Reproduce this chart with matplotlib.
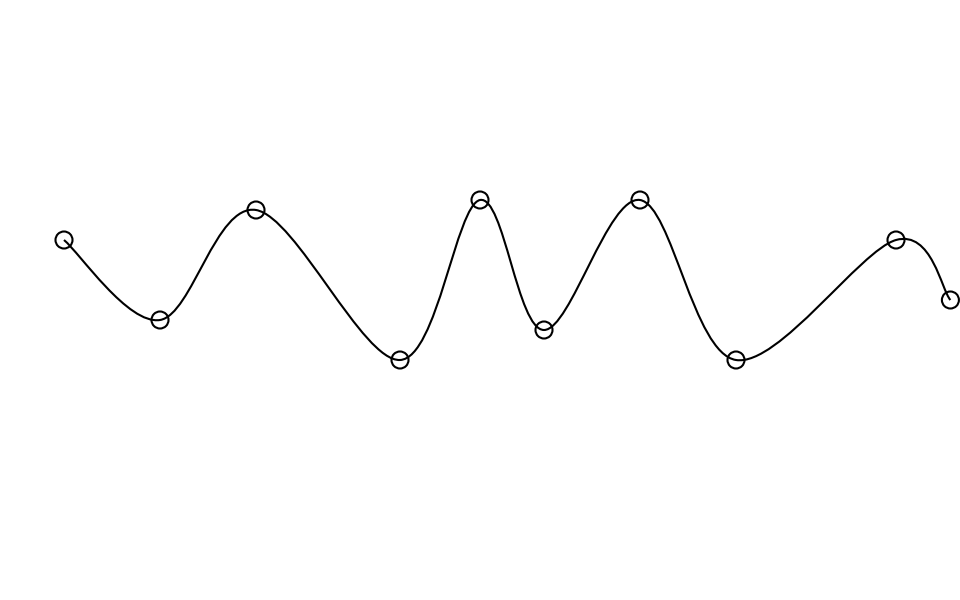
import numpy as np
import matplotlib
matplotlib.use('Agg')
import matplotlib.pyplot as plt
from matplotlib.path import Path
from matplotlib.patches import PathPatch

# Data
x_vals = [4, 10, 16, 25, 30, 34, 40, 46, 56, 59.4]
y_vals = [36, 28, 39, 24, 40, 27, 40, 24, 36, 30]


def cardinal_path(x, y, tension=0.0):
    # Cardinal spline through the points, as cubic bezier segments
    pts = np.column_stack([x, y]).astype(float)
    padded = np.vstack([pts[0], pts, pts[-1]])
    k = (1 - tension) / 6
    verts = [pts[0]]
    codes = [Path.MOVETO]
    for i in range(1, len(padded) - 2):
        p0, p1, p2, p3 = padded[i - 1], padded[i], padded[i + 1], padded[i + 2]
        c1 = p1 + k * (p2 - p0)
        c2 = p2 - k * (p3 - p1)
        verts += [c1, c2, p2]
        codes += [Path.CURVE4] * 3
    return Path(verts, codes)


fig = plt.figure(figsize=(9.6, 6), dpi=100)
ax = fig.add_axes([0, 0, 1, 1])
ax.set_xlim(0, 60)
ax.set_ylim(0, 60)
ax.axis('off')

ax.add_patch(PathPatch(cardinal_path(x_vals, y_vals), facecolor='none',
                       edgecolor='black', linewidth=1.5))
ax.scatter(x_vals, y_vals, s=150, facecolors='none', edgecolors='black',
           linewidths=1.5, zorder=3)

fig.savefig('out.png', dpi=100)
